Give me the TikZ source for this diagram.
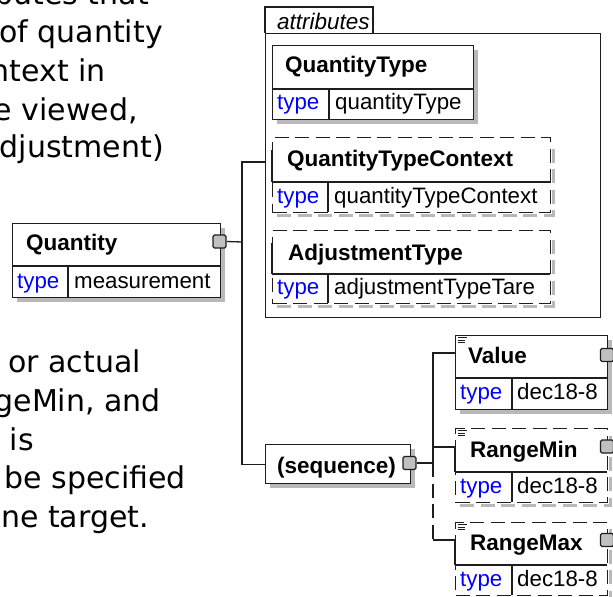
\documentclass[tikz,border=0pt]{standalone}
\usepackage{fontspec}
\newfontfamily\arialf{Liberation Sans}
\newfontfamily\verdf{DejaVu Sans}
\definecolor{tblue}{RGB}{0,0,255}
\definecolor{sqgray}{RGB}{192,192,192}
\definecolor{shadowc}{RGB}{185,185,185}
\definecolor{linec}{RGB}{30,30,30}
\begin{document}
\begin{tikzpicture}[x=1bp,y=-1bp,
  box/.style={draw=linec, line width=1.3bp, fill=white, inner sep=0pt, anchor=north west},
  optbox/.style={box, dash pattern=on 14bp off 6.5bp},
  rule/.style={draw=linec, line width=1.3bp},
  conn/.style={draw=linec, line width=1.3bp},
  optconn/.style={conn, dash pattern=on 14bp off 6.5bp},
  shadowbox/.style={fill=shadowc},
  shadowdash/.style={draw=shadowc, line width=3bp, dash pattern=on 14bp off 6.5bp},
  sq/.style={draw=linec, line width=1.2bp, fill=sqgray, minimum size=13bp, inner sep=0pt, rounded corners=1.5bp},
  nametxt/.style={inner sep=0pt, anchor=base west, font=\arialf\bfseries\fontsize{22.5bp}{27bp}\selectfont},
  typetxt/.style={inner sep=0pt, anchor=base west, text=tblue, font=\arialf\fontsize{22.3bp}{27bp}\selectfont},
  valtxt/.style={inner sep=0pt, anchor=base west, font=\arialf\fontsize{22.3bp}{27bp}\selectfont},
  lefttxt/.style={inner sep=0pt, anchor=base east, font=\verdf\fontsize{30bp}{36bp}\selectfont},
  icon/.style={draw=linec, line width=0.9bp}
]
\useasboundingbox (0,0) rectangle (613,597);
\clip (0,0) rectangle (613,597);

% ---------- left description text (cut at the left edge) ----------
\node[lefttxt] (t1) at (149,5) {butes that};
\node[lefttxt] (t2) at (163,43) {of quantity};
\node[lefttxt] (t3) at (106,82) {ntext in};
\node[lefttxt] (t4) at (138,121) {e viewed,};
\node[lefttxt] (t5) at (164,158) {djustment)};
\node[lefttxt] (b1) at (141,372) {or actual};
\node[lefttxt] (b2) at (161,411) {geMin, and};
\node[lefttxt] (b3) at (34,450) {is};
\node[lefttxt] (b4) at (186,488) {be specified};
\node[lefttxt] (b5) at (149,527) {ne target.};

% ---------- Quantity ----------
\fill[shadowbox] (17,228) rectangle (225,302);
\node[box, minimum width=208bp, minimum height=74bp] (qty) at (12,223) {};
\draw[rule] (12,266) -- (220,266);
\draw[rule] (68,266) -- (68,297);
\node[nametxt] (qtyn) at (26,250) {Quantity};
\node[typetxt] (qtyt) at (17,288) {type};
\node[valtxt] (qtyv) at (74,288) {measurement};
\node[sq] (sq1) at (219.5,241.5) {};

% ---------- attributes group ----------
\draw[rule, line width=1.1bp] (265,33) -- (265,7) -- (373,7) -- (373,33);
\node[box, line width=1.1bp, minimum width=335bp, minimum height=284bp, fill=none] (attr) at (265,33) {};
\node[inner sep=0pt, anchor=base west, font=\arialf\itshape\fontsize{22.5bp}{27bp}\selectfont] (attrl) at (277,30) {attributes};

% QuantityType
\fill[shadowbox] (277,50) rectangle (478,124);
\node[box, minimum width=201bp, minimum height=74bp] (qt) at (272,45) {};
\draw[rule] (272,89) -- (473,89);
\draw[rule] (329,89) -- (329,119);
\node[nametxt] (qtn) at (285,73) {QuantityType};
\node[typetxt] (qtt) at (277,110) {type};
\node[valtxt] (qtv) at (335,110) {quantityType};

% QuantityTypeContext
\draw[shadowdash] (277,215) -- (553,215) -- (553,143);
\node[optbox, minimum width=278bp, minimum height=75bp] (qtc) at (272,137) {};
\draw[rule] (272,150) -- (272,182);
\draw[rule] (272,182) -- (550,182);
\draw[rule] (328,182) -- (328,212);
\node[nametxt] (qtcn) at (287,167) {QuantityTypeContext};
\node[typetxt] (qtct) at (277,203) {type};
\node[valtxt] (qtcv) at (334,203) {quantityTypeContext};

% AdjustmentType
\draw[shadowdash] (277,306) -- (553,306) -- (553,236);
\node[optbox, minimum width=278bp, minimum height=73bp] (adj) at (272,230) {};
\draw[rule] (272,243) -- (272,274);
\draw[rule] (272,274) -- (550,274);
\draw[rule] (328,274) -- (328,303);
\node[nametxt] (adjn) at (288,260) {AdjustmentType};
\node[typetxt] (adjt) at (277,294.5) {type};
\node[valtxt] (adjv) at (334,294.5) {adjustmentTypeTare};

% ---------- sequence ----------
\fill[shadowbox] (270,449) rectangle (415,488);
\node[box, minimum width=145bp, minimum height=39bp] (seq) at (265,444) {};
\node[nametxt] (seqn) at (277,473) {(sequence)};
\node[sq] (sq2) at (409.5,463) {};

% ---------- Value ----------
\fill[shadowbox] (460,340) rectangle (612,414);
\node[box, minimum width=152bp, minimum height=74bp] (val) at (455,335) {};
\draw[rule] (455,378) -- (607,378);
\draw[rule] (512,378) -- (512,409);
\draw[icon] (457.5,337.5) -- (467,337.5) (457.5,340) -- (464.5,340) (457.5,342.5) -- (464.5,342.5);
\node[nametxt] (valn) at (468,363) {Value};
\node[typetxt] (valt) at (460,399.5) {type};
\node[valtxt] (valv) at (517,399.5) {dec18-8};
\node[sq] (sq3) at (607,355) {};

% ---------- RangeMin ----------
\draw[shadowdash] (460,505) -- (610,505) -- (610,434);
\node[optbox, minimum width=152bp, minimum height=74bp] (rmin) at (455,428) {};
\draw[rule] (455,447) -- (455,472);
\draw[rule] (455,472) -- (607,472);
\draw[rule] (512,472) -- (512,502);
\draw[icon] (457.5,430.5) -- (467,430.5) (457.5,433) -- (464.5,433) (457.5,435.5) -- (464.5,435.5);
\node[nametxt] (rminn) at (470,457) {RangeMin};
\node[typetxt] (rmint) at (460,493) {type};
\node[valtxt] (rminv) at (517,493) {dec18-8};
\node[sq] (sq4) at (607,446.5) {};

% ---------- RangeMax ----------
\draw[shadowdash] (460,598) -- (610,598) -- (610,528);
\node[optbox, minimum width=152bp, minimum height=73bp] (rmax) at (455,522) {};
\draw[rule] (455,540) -- (455,565);
\draw[rule] (455,565) -- (607,565);
\draw[rule] (512,565) -- (512,595);
\draw[icon] (457.5,524.5) -- (467,524.5) (457.5,527) -- (464.5,527) (457.5,529.5) -- (464.5,529.5);
\node[nametxt] (rmaxn) at (470,550) {RangeMax};
\node[typetxt] (rmaxt) at (460,586) {type};
\node[valtxt] (rmaxv) at (517,586) {dec18-8};
\node[sq] (sq5) at (607,540) {};

% ---------- connectors ----------
\coordinate (j1) at (242,242);
\coordinate (attrin) at (265,162);
\coordinate (j2) at (433,463);
\coordinate (valin) at (455,353);
\coordinate (rminin) at (455,447);
\coordinate (rmaxin) at (455,540);
\coordinate (j2bot) at (433,540);

\draw[conn] (sq1.east) -- (j1);
\draw[conn] (j1) |- (attrin);
\draw[conn] (j1) |- (seq.west);
\draw[conn] (sq2.east) -- (j2);
\draw[conn] (j2) |- (valin);
\draw[conn] (j2 |- rminin) -- (rminin);
\draw[optconn] (j2) -- (j2bot);
\draw[conn] (j2bot) -- (rmaxin);
\end{tikzpicture}
\end{document}
